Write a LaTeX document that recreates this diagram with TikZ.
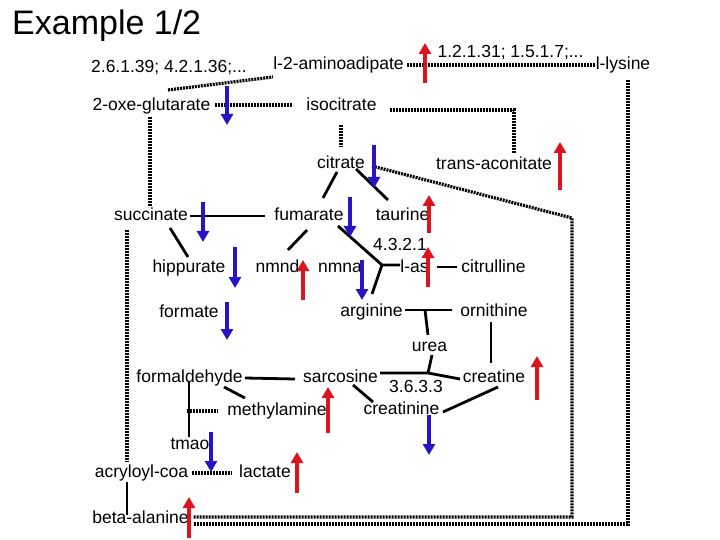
\documentclass[tikz,border=0pt]{standalone}
\usepackage{fontspec}
\setmainfont{Liberation Sans}
\usepackage{xcolor}
\usetikzlibrary{arrows.meta}
\definecolor{upred}{RGB}{220,20,30}
\definecolor{downblue}{RGB}{40,20,200}
\tikzset{
  met/.style={font=\fontsize{17.5}{20}\selectfont,inner sep=0pt,anchor=base},
  dotline/.style={line width=3.2pt,dash pattern=on 2pt off 1pt},
  solidline/.style={line width=2.8pt},
  uparrow/.style={upred,line width=4.5pt,-{Triangle[width=12pt,length=11pt]}},
  downarrow/.style={downblue,line width=4.5pt,-{Triangle[width=12pt,length=11pt]}}
}
\begin{document}
\begin{tikzpicture}[x=1pt,y=-1pt]
                \useasboundingbox (0,0) rectangle (720,540);
                \node[anchor=base west,inner sep=0pt,font=\fontsize{34}{38}\selectfont] (title) at (12,35) {Example 1/2};
                \node[met] (ecA) at (169,73) {2.6.1.39; 4.2.1.36;...};
                \node[met] (aad) at (338.5,70) {l-2-aminoadipate};
                \node[met] (ecB) at (510.5,58) {1.2.1.31; 1.5.1.7;...};
                \node[met] (lys) at (623,70) {l-lysine};
                \node[met] (oxg) at (151.5,111) {2-oxe-glutarate};
                \node[met] (icit) at (341.5,111) {isocitrate};
                \node[met] (cit) at (341,169) {citrate};
                \node[met] (tacon) at (494,170) {trans-aconitate};
                \node[met] (succ) at (151,221) {succinate};
                \node[met] (fum) at (309,221) {fumarate};
                \node[met] (taur) at (402.5,221) {taurine};
                \node[met] (ecC) at (400,250) {4.3.2.1};
                \node[met] (hipp) at (189,272) {hippurate};
                \node[met] (nmnd) at (277.5,272) {nmnd};
                \node[met] (nmna) at (340,272) {nmna};
                \node[met] (lasp) at (414.5,272) {l-as};
                \node[met] (citr) at (493.5,272) {citrulline};
                \node[met] (form) at (189,317) {formate};
                \node[met] (arg) at (371.5,316) {arginine};
                \node[met] (orn) at (494,316) {ornithine};
                \node[met] (urea) at (429.5,351) {urea};
                \node[met] (fald) at (189.5,382) {formaldehyde};
                \node[met] (sarc) at (340.5,382) {sarcosine};
                \node[met] (ecD) at (416,392) {3.6.3.3};
                \node[met] (crea) at (494,382) {creatine};
                \node[met] (mam) at (277,415) {methylamine};
                \node[met] (crn) at (401.5,414) {creatinine};
                \node[met] (tmao) at (190,449) {tmao};
                \node[met] (acoa) at (141.5,477) {acryloyl-coa};
                \node[met] (lac) at (265,477) {lactate};
                \node[met] (bala) at (140.5,523) {beta-alanine};
                \coordinate (turn) at (572,218);
                \coordinate (junc) at (382,265);
                \coordinate (ureaj) at (428,373);
                \draw[dotline] ([shift={(16.5,-21)}]oxg.base) -- ([shift={(-65.5,7)}]aad.base);
                \draw[dotline] ([shift={(63.5,-6)}]oxg.base) -- ([shift={(-48.5,-6)}]icit.base);
                \draw[dotline] ([shift={(48.5,-1)}]icit.base) -| ([shift={(20,-17)}]tacon.base);
                \draw[dotline] ([shift={(-0.5,14)}]icit.base) -- ([shift={(0,-22)}]cit.base);
                \draw[dotline] ([shift={(68.5,-5)}]aad.base) -- ([shift={(-28,-5)}]lys.base);
                \draw[dotline] ([shift={(5,10)}]lys.base) |- ([shift={(52.5,1)}]bala.base);
                \draw[dotline] ([shift={(31,-3)}]cit.base) -- (turn) |- ([shift={(52.5,-6)}]bala.base);
                \draw[dotline] ([shift={(-1.5,6)}]oxg.base) -- ([shift={(-1,-14)}]succ.base);
                \draw[dotline] ([shift={(-24,9)}]succ.base) -- ([shift={(-14.5,-15)}]acoa.base);
                \draw[dotline] ([shift={(50.5,-4)}]acoa.base) -- ([shift={(-33,-4)}]lac.base);
                \draw[dotline] ([shift={(-2.5,29)}]fald.base) -- ([shift={(-59,-4)}]mam.base);
                \draw[solidline] ([shift={(-0.5,0)}]fald.base) -- ([shift={(-1,-12)}]tmao.base);
                \draw[solidline] ([shift={(39,-5)}]succ.base) -- ([shift={(-44,-5)}]fum.base);
                \draw[solidline] ([shift={(19,7)}]succ.base) -- ([shift={(-1,-15)}]hipp.base);
                \draw[solidline] ([shift={(-2,9)}]fum.base) -- ([shift={(10.5,-22)}]nmnd.base);
                \draw[solidline] ([shift={(-4,3)}]cit.base) -- ([shift={(14,-23)}]fum.base);
                \draw[solidline] ([shift={(15,0)}]cit.base) -- ([shift={(-14.5,-21)}]taur.base);
                \draw[solidline] ([shift={(29,5)}]fum.base) -- (junc) -- ([shift={(-14.5,-7)}]lasp.base);
                \draw[solidline] (junc) -- ([shift={(0.5,-22)}]arg.base);
                \draw[solidline] ([shift={(22.5,-5)}]lasp.base) -- ([shift={(-36.5,-5)}]citr.base);
                \draw[solidline] ([shift={(33.5,-6)}]arg.base) -- ([shift={(-42,-6)}]orn.base);
                \draw[solidline] ([shift={(53.5,-6)}]arg.base) -- ([shift={(-1.5,-16)}]urea.base);
                \draw[solidline] ([shift={(2.5,4)}]urea.base) -- (ureaj);
                \draw[solidline] ([shift={(39.5,-9)}]sarc.base) -- (ureaj) -- ([shift={(-34,-3)}]crea.base);
                \draw[solidline] ([shift={(-3,6)}]orn.base) -- ([shift={(-3,-19)}]crea.base);
                \draw[solidline] ([shift={(12.5,3)}]sarc.base) -- ([shift={(-28.5,-12)}]crn.base);
                \draw[solidline] ([shift={(41.5,-2)}]crn.base) -- ([shift={(4,5)}]crea.base);
                \draw[solidline] ([shift={(55.5,-4)}]fald.base) -- ([shift={(-45.5,-3)}]sarc.base);
                \draw[solidline] ([shift={(34.5,5)}]fald.base) -- ([shift={(-32,-17)}]mam.base);
                \draw[solidline] ([shift={(-14.5,5)}]acoa.base) -- ([shift={(-13.5,-8)}]bala.base);
                \foreach \x/\ya/\yb in {227/86/125,374/145/188,203/202/242,350/197/237,235/247/288,362/260/300,227/302/340,211/432/472,429/415/455} {
                    \draw[downarrow] (\x,\ya) -- (\x,\yb);
                }
                \foreach \x/\ya/\yb in {425/83/43,560/190/142,429/233/195,428/287/247,303/300/260,537/400/356,328/433/387,297/493/452,189/538/497} {
                    \draw[uparrow] (\x,\ya) -- (\x,\yb);
                }
            \end{tikzpicture}
\end{document}
